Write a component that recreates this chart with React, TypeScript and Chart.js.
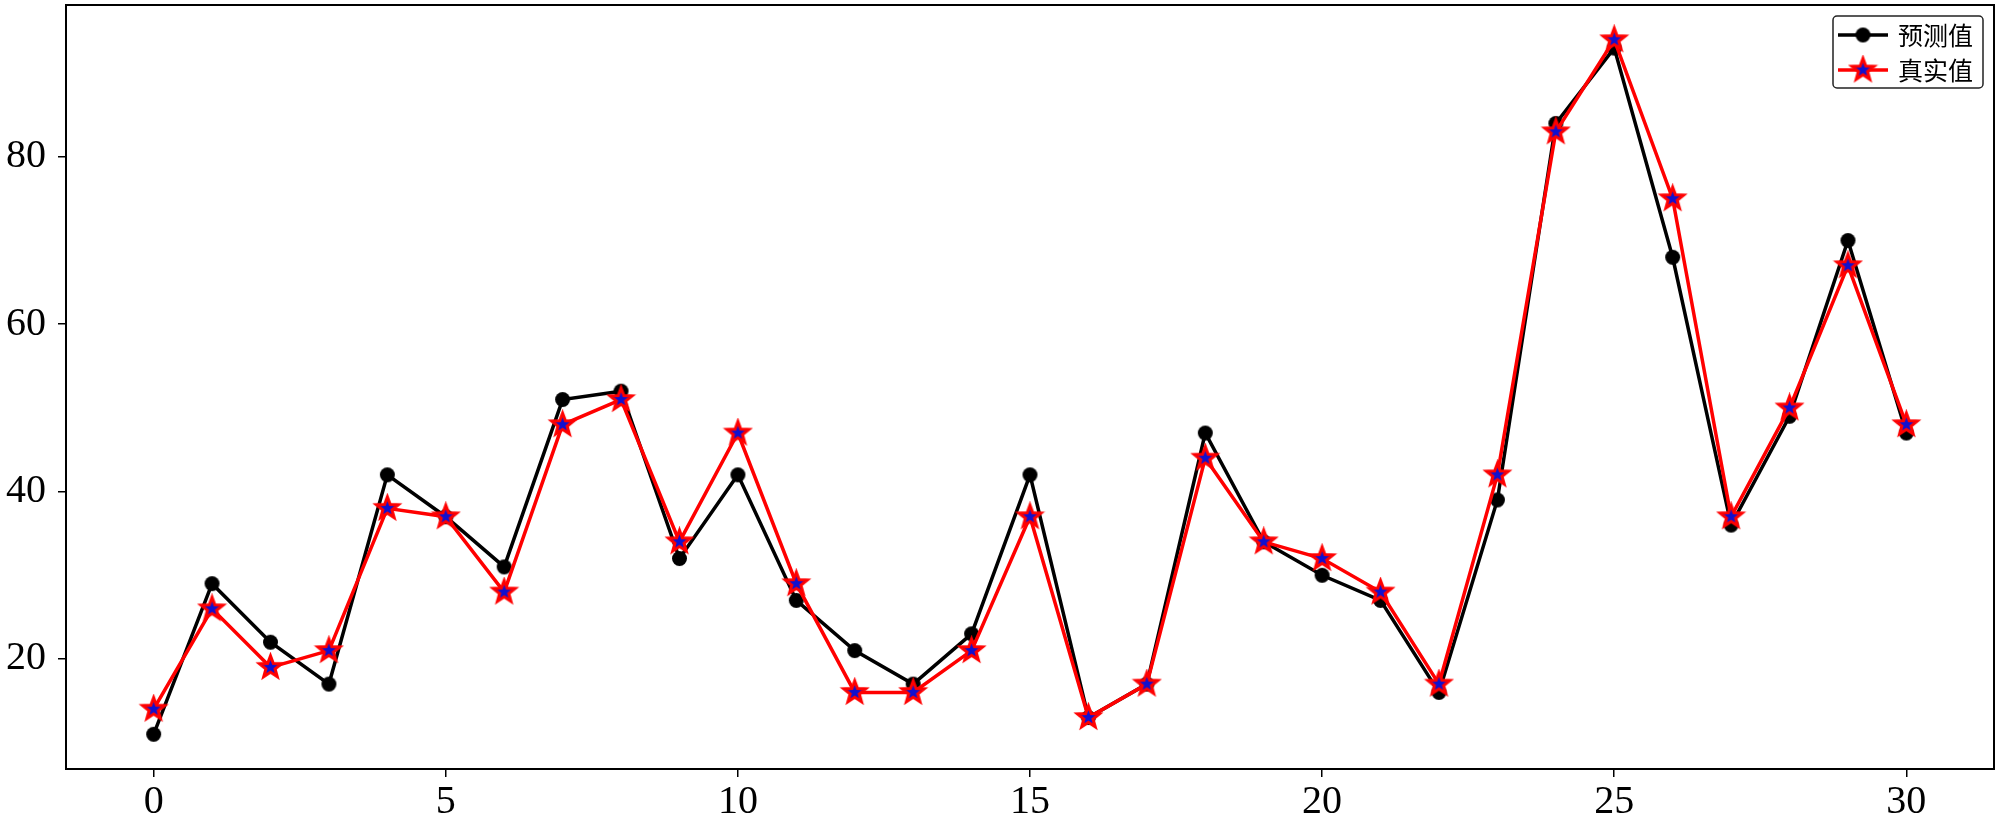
import React, { useEffect, useRef } from "react";
import { Chart, registerables } from "chart.js";

Chart.register(...registerables);

const steps = [0, 1, 2, 3, 4, 5, 6, 7, 8, 9, 10, 11, 12, 13, 14, 15, 16, 17, 18, 19, 20, 21, 22, 23, 24, 25, 26, 27, 28, 29, 30];
const predicted = [11, 29, 22, 17, 42, 37, 31, 51, 52, 32, 42, 27, 21, 17, 23, 42, 13, 17, 47, 34, 30, 27, 16, 39, 84, 93, 68, 36, 49, 70, 47];
const actual = [14, 26, 19, 21, 38, 37, 28, 48, 51, 34, 47, 29, 16, 16, 21, 37, 13, 17, 44, 34, 32, 28, 17, 42, 83, 94, 75, 37, 50, 67, 48];
const xTickValues = [0, 5, 10, 15, 20, 25, 30];
const yTickValues = [20, 40, 60, 80];
const seriesNames = ["预测值", "真实值"];

function makeStar(outerR: number, innerR: number, fill: string, stroke: string, lw: number) {
  const size = Math.ceil(2 * (outerR + lw)) + 2;
  const c = document.createElement("canvas");
  c.width = size;
  c.height = size;
  const g = c.getContext("2d")!;
  g.translate(size / 2, size / 2);
  g.beginPath();
  for (let i = 0; i < 10; i++) {
    const r = i % 2 === 0 ? outerR : innerR;
    const a = -Math.PI / 2 + (i * Math.PI) / 5;
    g.lineTo(r * Math.cos(a), r * Math.sin(a));
  }
  g.closePath();
  g.fillStyle = fill;
  g.fill();
  g.lineJoin = "miter";
  g.strokeStyle = stroke;
  g.lineWidth = lw;
  g.stroke();
  return c;
}

function makeDot(r: number, fill: string) {
  const size = Math.ceil(2 * r) + 2;
  const c = document.createElement("canvas");
  c.width = size;
  c.height = size;
  const g = c.getContext("2d")!;
  g.fillStyle = fill;
  g.beginPath();
  g.arc(size / 2, size / 2, r, 0, Math.PI * 2);
  g.fill();
  return c;
}

export default function App() {
  const ref = useRef<HTMLCanvasElement | null>(null);

  useEffect(() => {
    const canvas = ref.current;
    if (!canvas) return;
    const star = makeStar(11.5, 4.8, "#1010d0", "#ff0000", 3);
    const dot = makeDot(7.5, "#000");

    const frame = {
      id: "frame",
      afterDatasetsDraw(chart: any) {
        const { ctx, chartArea: a } = chart;
        ctx.save();
        ctx.strokeStyle = "#000";
        ctx.lineWidth = 2;
        ctx.strokeRect(a.left, a.top, a.right - a.left, a.bottom - a.top);
        ctx.restore();
      },
      afterDraw(chart: any) {
        const { ctx } = chart;
        ctx.save();
        const bx = 1833, by = 16, bw = 150, bh = 72, r = 4;
        ctx.beginPath();
        ctx.moveTo(bx + r, by);
        ctx.arcTo(bx + bw, by, bx + bw, by + bh, r);
        ctx.arcTo(bx + bw, by + bh, bx, by + bh, r);
        ctx.arcTo(bx, by + bh, bx, by, r);
        ctx.arcTo(bx, by, bx + bw, by, r);
        ctx.closePath();
        ctx.fillStyle = "#fff";
        ctx.fill();
        ctx.strokeStyle = "#222";
        ctx.lineWidth = 1.5;
        ctx.stroke();
        const rows = [35, 70];
        ctx.strokeStyle = "#000";
        ctx.lineWidth = 3.5;
        ctx.beginPath();
        ctx.moveTo(1838, rows[0]);
        ctx.lineTo(1888, rows[0]);
        ctx.stroke();
        ctx.drawImage(dot, 1863 - dot.width / 2, rows[0] - dot.height / 2);
        ctx.strokeStyle = "#ff0000";
        ctx.beginPath();
        ctx.moveTo(1838, rows[1]);
        ctx.lineTo(1888, rows[1]);
        ctx.stroke();
        ctx.drawImage(star, 1863 - star.width / 2, rows[1] - star.height / 2);
        ctx.fillStyle = "#000";
        ctx.font = '25px "Noto Sans CJK SC"';
        ctx.textBaseline = "middle";
        ctx.textAlign = "left";
        ctx.fillText(seriesNames[0], 1898, rows[0]);
        ctx.fillText(seriesNames[1], 1898, rows[1]);
        ctx.restore();
      },
    };

    const chart = new Chart(canvas, {
      type: "line",
      data: {
        datasets: [
          {
            label: seriesNames[0],
            data: steps.map((s, i) => ({ x: s, y: predicted[i] })),
            borderColor: "#000",
            backgroundColor: "#000",
            borderWidth: 3.5,
            pointStyle: dot as any,
            pointRadius: 1,
            pointBorderWidth: 0,
            tension: 0,
            order: 1,
          },
          {
            label: seriesNames[1],
            data: steps.map((s, i) => ({ x: s, y: actual[i] })),
            borderColor: "#ff0000",
            backgroundColor: "#1010d0",
            borderWidth: 3.5,
            pointStyle: star as any,
            pointRadius: 1,
            pointBorderWidth: 0,
            tension: 0,
            order: 0,
          },
        ],
      },
      options: {
        responsive: false,
        animation: false,
        devicePixelRatio: 1,
        layout: { padding: { top: 5, right: 6, left: 0, bottom: 0 } },
        plugins: { legend: { display: false }, tooltip: { enabled: false } },
        scales: {
          x: {
            type: "linear",
            min: -1.5,
            max: 31.5,
            afterBuildTicks: (axis: any) => {
              axis.ticks = xTickValues.map((v) => ({ value: v }));
            },
            afterFit: (axis: any) => {
              axis.height = 54;
              axis.paddingLeft = 0;
              axis.paddingRight = 0;
            },
            grid: { display: true, drawOnChartArea: false, drawTicks: true, tickLength: 8, color: "#000", lineWidth: 1.5 },
            border: { display: true, color: "#000", width: 2 },
            ticks: { color: "#000", font: { family: '"Liberation Serif"', size: 40 }, padding: 1, maxRotation: 0 },
          },
          y: {
            type: "linear",
            min: 6.85,
            max: 98.15,
            afterBuildTicks: (axis: any) => {
              axis.ticks = yTickValues.map((v) => ({ value: v }));
            },
            afterFit: (axis: any) => {
              axis.width = 66;
              axis.paddingTop = 0;
              axis.paddingBottom = 0;
            },
            grid: { display: true, drawOnChartArea: false, drawTicks: true, tickLength: 8, color: "#000", lineWidth: 1.5 },
            border: { display: true, color: "#000", width: 2 },
            ticks: { color: "#000", font: { family: '"Liberation Serif"', size: 40 }, padding: 12 },
          },
        },
      },
      plugins: [frame],
    });
    return () => chart.destroy();
  }, []);

  return (
    <div style={{ position: "absolute", left: 0, top: 0, width: 2000, height: 823, background: "#fff" }}>
      <canvas ref={ref} width={2000} height={823} style={{ display: "block" }} />
    </div>
  );
}
